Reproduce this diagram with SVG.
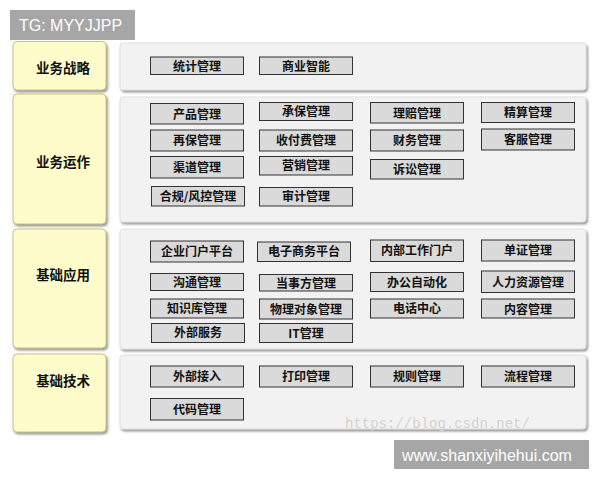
<svg xmlns="http://www.w3.org/2000/svg" width="600" height="480" viewBox="0 0 600 480">
<defs>
<filter id="sh" x="-5%" y="-5%" width="115%" height="120%">
<feDropShadow dx="1.5" dy="2" stdDeviation="1" flood-color="#808080" flood-opacity="0.8"/>
</filter>
<style>
.tag{fill:#a6a6a6}
.tagt{font-family:"Liberation Sans",Arial,sans-serif;font-size:16px;fill:#ffffff}
.lay{fill:#fffccc;stroke:#c9c27e;stroke-width:1;filter:url(#sh)}
.layt{font-family:"Noto Sans CJK SC",sans-serif;font-size:13.5px;font-weight:bold;fill:#111;text-anchor:middle}
.pan{fill:#f2f2f2;stroke:#e0e0e0;stroke-width:1;filter:url(#sh)}
.btn{fill:#dadada;stroke:#333;stroke-width:1}
.bt{font-family:"Noto Sans CJK SC",sans-serif;font-size:12px;font-weight:bold;fill:#111;text-anchor:middle}
.wm{font-family:"Liberation Mono",monospace;font-size:14px;fill:#d2d2d2}
</style>
</defs>
<rect width="600" height="480" fill="#ffffff"/>

<g id="tag-top">
<rect class="tag" x="10" y="10" width="125" height="30"/>
<text class="tagt" x="19" y="31">TG: MYYJJPP</text>
</g>

<g id="layer-strategy">
<rect class="lay" x="13" y="41.5" width="93" height="48.5" rx="4"/>
<text class="layt" x="63" y="73">业务战略</text>
</g>
<g id="layer-operation">
<rect class="lay" x="13" y="94" width="93" height="130" rx="4"/>
<text class="layt" x="63" y="167">业务运作</text>
</g>
<g id="layer-application">
<rect class="lay" x="13" y="229" width="93" height="119" rx="4"/>
<text class="layt" x="63" y="280">基础应用</text>
</g>
<g id="layer-tech">
<rect class="lay" x="13" y="354" width="93" height="78" rx="4"/>
<text class="layt" x="63" y="386">基础技术</text>
</g>

<g id="panel-strategy">
<rect class="pan" x="120" y="43" width="466" height="47" rx="3"/>
</g>
<g id="panel-operation">
<rect class="pan" x="120" y="97" width="466" height="125" rx="3"/>
</g>
<g id="panel-application">
<rect class="pan" x="120" y="229" width="466" height="120" rx="3"/>
</g>
<g id="panel-tech">
<rect class="pan" x="120" y="355" width="466" height="74" rx="3"/>
</g>

<g id="n-tongji"><rect class="btn" x="150.5" y="57" width="93" height="17.5"/><text class="bt" x="197" y="70.5">统计管理</text></g>
<g id="n-shangye"><rect class="btn" x="259.5" y="57" width="93" height="17.5"/><text class="bt" x="306" y="70.5">商业智能</text></g>

<g id="n-chanpin"><rect class="btn" x="150.5" y="103.5" width="93" height="20.5"/><text class="bt" x="197" y="118.5">产品管理</text></g>
<g id="n-chengbao"><rect class="btn" x="259.5" y="102.5" width="93" height="18"/><text class="bt" x="306" y="116">承保管理</text></g>
<g id="n-lipei"><rect class="btn" x="370.5" y="102.5" width="93" height="20.5"/><text class="bt" x="417" y="117.5">理赔管理</text></g>
<g id="n-jingsuan"><rect class="btn" x="481.5" y="102.5" width="93" height="20"/><text class="bt" x="528" y="117">精算管理</text></g>

<g id="n-zaibao"><rect class="btn" x="150.5" y="130" width="93" height="21"/><text class="bt" x="197" y="145">再保管理</text></g>
<g id="n-shoufu"><rect class="btn" x="259.5" y="130" width="93" height="21"/><text class="bt" x="306" y="145">收付费管理</text></g>
<g id="n-caiwu"><rect class="btn" x="370.5" y="130" width="93" height="21"/><text class="bt" x="417" y="145">财务管理</text></g>
<g id="n-kefu"><rect class="btn" x="481.5" y="129" width="93" height="21"/><text class="bt" x="528" y="144">客服管理</text></g>

<g id="n-qudao"><rect class="btn" x="150.5" y="156.5" width="93" height="21.5"/><text class="bt" x="197" y="171.5">渠道管理</text></g>
<g id="n-yingxiao"><rect class="btn" x="259.5" y="156.5" width="93" height="18.5"/><text class="bt" x="306" y="170">营销管理</text></g>
<g id="n-susong"><rect class="btn" x="370.5" y="159.5" width="93" height="19.5"/><text class="bt" x="417" y="174">诉讼管理</text></g>

<g id="n-hegui"><rect class="btn" x="151.5" y="186.5" width="93" height="19.5"/><text class="bt" x="198" y="201">合规/风控管理</text></g>
<g id="n-shenji"><rect class="btn" x="259.5" y="187.5" width="93" height="18.5"/><text class="bt" x="306" y="201">审计管理</text></g>

<g id="n-qiye"><rect class="btn" x="150.5" y="241" width="93" height="21"/><text class="bt" x="197" y="256">企业门户平台</text></g>
<g id="n-dianzi"><rect class="btn" x="257.5" y="242" width="93" height="19.5"/><text class="bt" x="304" y="256">电子商务平台</text></g>
<g id="n-neibu"><rect class="btn" x="370.5" y="240" width="93" height="21.5"/><text class="bt" x="417" y="255">内部工作门户</text></g>
<g id="n-danzheng"><rect class="btn" x="481.5" y="240" width="93" height="21"/><text class="bt" x="528" y="255">单证管理</text></g>

<g id="n-goutong"><rect class="btn" x="150.5" y="273.5" width="93" height="17"/><text class="bt" x="197" y="287">沟通管理</text></g>
<g id="n-dangshi"><rect class="btn" x="259.5" y="274.5" width="93" height="16.5"/><text class="bt" x="306" y="288">当事方管理</text></g>
<g id="n-bangong"><rect class="btn" x="370.5" y="272.5" width="93" height="19"/><text class="bt" x="417" y="287">办公自动化</text></g>
<g id="n-renli"><rect class="btn" x="481.5" y="271" width="93" height="21.5"/><text class="bt" x="528" y="287">人力资源管理</text></g>

<g id="n-zhishi"><rect class="btn" x="150.5" y="299" width="93" height="19"/><text class="bt" x="197" y="313">知识库管理</text></g>
<g id="n-wuli"><rect class="btn" x="259.5" y="299" width="93" height="20"/><text class="bt" x="306" y="314">物理对象管理</text></g>
<g id="n-dianhua"><rect class="btn" x="370.5" y="299" width="93" height="19"/><text class="bt" x="417" y="313">电话中心</text></g>
<g id="n-neirong"><rect class="btn" x="481.5" y="299" width="93" height="19"/><text class="bt" x="528" y="314">内容管理</text></g>

<g id="n-waibufuwu"><rect class="btn" x="151.5" y="323.5" width="93" height="19"/><text class="bt" x="198" y="337">外部服务</text></g>
<g id="n-it"><rect class="btn" x="259.5" y="323.5" width="93" height="19"/><text class="bt" x="306" y="338">IT管理</text></g>

<g id="n-jieru"><rect class="btn" x="150.5" y="366" width="93" height="21"/><text class="bt" x="197" y="381">外部接入</text></g>
<g id="n-dayin"><rect class="btn" x="259.5" y="366" width="93" height="21"/><text class="bt" x="306" y="381">打印管理</text></g>
<g id="n-guize"><rect class="btn" x="370.5" y="366" width="93" height="21"/><text class="bt" x="417" y="381">规则管理</text></g>
<g id="n-liucheng"><rect class="btn" x="481.5" y="366" width="93" height="21"/><text class="bt" x="528" y="381">流程管理</text></g>

<g id="n-daima"><rect class="btn" x="150.5" y="398.5" width="93" height="21.5"/><text class="bt" x="197" y="414">代码管理</text></g>

<g id="connectors"></g>

<text class="wm" x="345" y="428">https://blog.csdn.net/</text>

<g id="tag-bottom">
<rect class="tag" x="394" y="440" width="195" height="29"/>
<text class="tagt" x="402" y="461">www.shanxiyihehui.com</text>
</g>
</svg>
